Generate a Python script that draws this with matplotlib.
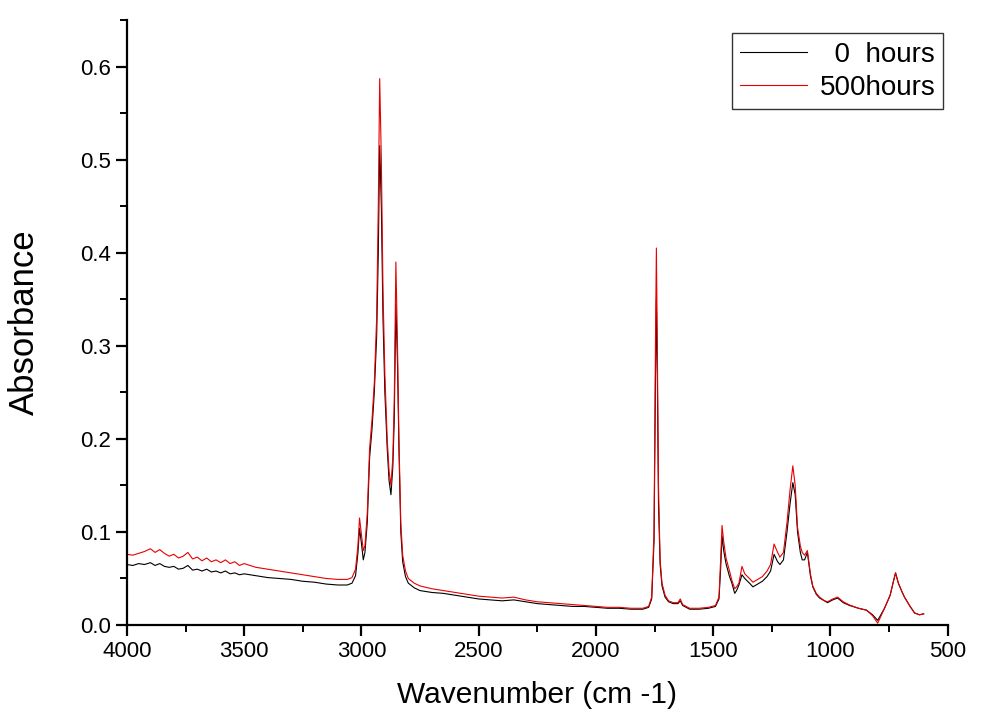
import matplotlib.pyplot as plt
from matplotlib.ticker import MultipleLocator, FormatStrFormatter

plt.rcParams['font.family'] = ['Liberation Sans', 'DejaVu Sans']

# wavenumber (cm-1)
wavenumber = [4000, 3975, 3950, 3925, 3900, 3880, 3860, 3840, 3820, 3800, 3780, 3760, 3740, 3720,
              3700, 3680, 3660, 3640, 3620, 3600, 3580, 3560, 3540, 3520, 3500, 3450, 3400, 3350,
              3300, 3250, 3200, 3150, 3100, 3060, 3040, 3025, 3015, 3008, 3000, 2992, 2985, 2975,
              2965, 2955, 2945, 2935, 2928, 2922, 2915, 2908, 2900, 2890, 2882, 2874, 2866, 2860,
              2853, 2846, 2840, 2832, 2824, 2812, 2800, 2775, 2750, 2700, 2650, 2600, 2550, 2500,
              2450, 2400, 2350, 2300, 2250, 2200, 2150, 2100, 2050, 2000, 1950, 1900, 1850, 1800,
              1775, 1762, 1752, 1746, 1742, 1738, 1733, 1726, 1718, 1705, 1690, 1670, 1650, 1640,
              1630, 1600, 1560, 1520, 1490, 1475, 1468, 1462, 1455, 1445, 1430, 1420, 1408, 1400,
              1390, 1377, 1365, 1345, 1330, 1310, 1290, 1270, 1255, 1240, 1225, 1215, 1200, 1185,
              1172, 1160, 1150, 1140, 1128, 1120, 1110, 1098, 1085, 1075, 1060, 1046, 1025, 1012,
              990, 969, 945, 918, 880, 846, 820, 798, 780, 769, 745, 730, 722, 710, 695, 684,
              660, 641, 620, 602]

abs_0h = [0.065, 0.064, 0.066, 0.065, 0.067, 0.064, 0.066, 0.063, 0.062, 0.063, 0.060, 0.061, 0.064, 0.059,
          0.060, 0.058, 0.060, 0.057, 0.058, 0.056, 0.058, 0.055, 0.056, 0.054, 0.055, 0.053, 0.051, 0.050,
          0.049, 0.047, 0.046, 0.044, 0.043, 0.043, 0.045, 0.053, 0.077, 0.104, 0.088, 0.070, 0.078, 0.110,
          0.180, 0.210, 0.250, 0.310, 0.400, 0.515, 0.450, 0.330, 0.250, 0.190, 0.155, 0.140, 0.170, 0.220,
          0.345, 0.280, 0.190, 0.100, 0.068, 0.052, 0.045, 0.040, 0.037, 0.035, 0.034, 0.032, 0.030, 0.028,
          0.027, 0.026, 0.027, 0.025, 0.023, 0.022, 0.021, 0.020, 0.020, 0.019, 0.018, 0.018, 0.017, 0.017,
          0.019, 0.028, 0.090, 0.260, 0.350, 0.270, 0.130, 0.065, 0.042, 0.030, 0.025, 0.023, 0.023, 0.026,
          0.021, 0.017, 0.017, 0.018, 0.020, 0.028, 0.060, 0.096, 0.080, 0.066, 0.052, 0.045, 0.034, 0.037,
          0.043, 0.054, 0.050, 0.045, 0.041, 0.044, 0.047, 0.052, 0.058, 0.076, 0.068, 0.065, 0.070, 0.100,
          0.130, 0.153, 0.140, 0.100, 0.078, 0.070, 0.070, 0.078, 0.053, 0.041, 0.033, 0.029, 0.026, 0.024,
          0.027, 0.029, 0.024, 0.021, 0.018, 0.016, 0.011, 0.005, 0.013, 0.018, 0.032, 0.048, 0.056, 0.045,
          0.036, 0.030, 0.020, 0.013, 0.011, 0.012]

abs_500h = [0.076, 0.075, 0.077, 0.079, 0.082, 0.078, 0.081, 0.077, 0.074, 0.076, 0.072, 0.074, 0.078, 0.071,
            0.073, 0.069, 0.072, 0.068, 0.070, 0.067, 0.070, 0.066, 0.068, 0.064, 0.066, 0.062, 0.060, 0.058,
            0.056, 0.054, 0.052, 0.050, 0.049, 0.049, 0.051, 0.060, 0.085, 0.115, 0.098, 0.080, 0.085, 0.120,
            0.190, 0.220, 0.260, 0.330, 0.450, 0.587, 0.500, 0.360, 0.270, 0.200, 0.165, 0.150, 0.180, 0.240,
            0.390, 0.300, 0.200, 0.110, 0.075, 0.058, 0.050, 0.045, 0.042, 0.039, 0.037, 0.035, 0.033, 0.031,
            0.030, 0.029, 0.030, 0.027, 0.025, 0.024, 0.023, 0.022, 0.021, 0.020, 0.019, 0.019, 0.018, 0.018,
            0.020, 0.030, 0.100, 0.300, 0.405, 0.300, 0.150, 0.070, 0.045, 0.032, 0.026, 0.024, 0.024, 0.028,
            0.022, 0.018, 0.018, 0.019, 0.021, 0.030, 0.070, 0.107, 0.090, 0.072, 0.058, 0.048, 0.039, 0.041,
            0.045, 0.063, 0.055, 0.050, 0.046, 0.049, 0.052, 0.058, 0.065, 0.087, 0.078, 0.073, 0.078, 0.110,
            0.145, 0.171, 0.150, 0.105, 0.085, 0.078, 0.075, 0.080, 0.055, 0.042, 0.034, 0.030, 0.026, 0.025,
            0.028, 0.030, 0.025, 0.0215, 0.018, 0.016, 0.010, 0.002, 0.012, 0.018, 0.032, 0.048, 0.056, 0.045,
            0.036, 0.030, 0.020, 0.013, 0.011, 0.012]

fig = plt.figure(figsize=(9.84, 7.24), dpi=100)
ax = fig.add_axes([0.129, 0.1367, 0.834, 0.8357])

ax.plot(wavenumber, abs_0h, color='black', lw=0.8, label='  0  hours')
ax.plot(wavenumber, abs_500h, color='#e80000', lw=0.8, label='500hours')

ax.set_xlim(4000, 500)
ax.set_ylim(0, 0.65)
ax.xaxis.set_major_locator(MultipleLocator(500))
ax.xaxis.set_minor_locator(MultipleLocator(250))
ax.yaxis.set_major_locator(MultipleLocator(0.1))
ax.yaxis.set_minor_locator(MultipleLocator(0.05))
ax.yaxis.set_major_formatter(FormatStrFormatter('%.1f'))

for s in ['top', 'right']:
    ax.spines[s].set_visible(False)
for s in ['left', 'bottom']:
    ax.spines[s].set_linewidth(1.6)

ax.tick_params(which='major', direction='out', length=8, width=1.6, labelsize=16)
ax.tick_params(which='minor', direction='out', length=5, width=1.4)

ax.set_xlabel('Wavenumber (cm -1)', fontsize=21.5, labelpad=14)
ax.set_ylabel('Absorbance', fontsize=25, labelpad=28)

leg = ax.legend(loc='upper right', bbox_to_anchor=(0.995, 0.978), fontsize=20, frameon=True,
                fancybox=False, edgecolor='black', handlelength=2.4, handletextpad=0.45,
                borderpad=0.3, labelspacing=0.25, borderaxespad=0)
leg.get_frame().set_linewidth(1.0)

plt.savefig('out.png', dpi=100)
plt.close()
